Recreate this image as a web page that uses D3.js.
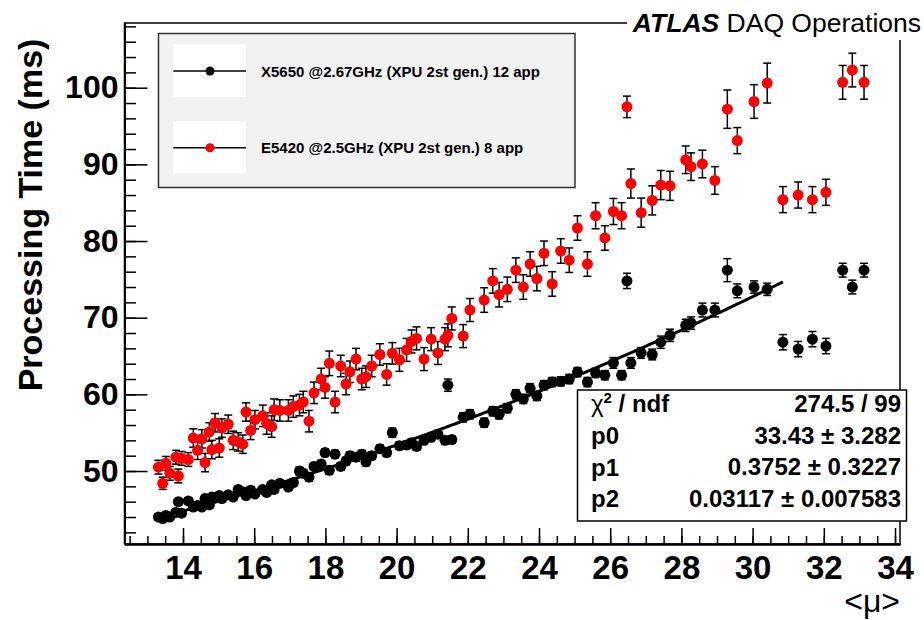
<!DOCTYPE html>
<html>
<head>
<meta charset="utf-8">
<script src="https://d3js.org/d3.v7.min.js"></script>
<style>
  body { margin: 0; background: #fff; }
  svg { display: block; font-family: "Liberation Sans", Arial, Helvetica, sans-serif; }
</style>
</head>
<body>
<div id="chart"></div>
<script>
// <mu> bins, shared by both machines
var mu = [
  13.31, 13.43, 13.52, 13.63, 13.80, 13.87, 13.96, 14.15, 14.29, 14.41,
  14.53, 14.62, 14.74, 14.81, 14.90, 15.02, 15.09, 15.27, 15.41, 15.55,
  15.68, 15.77, 15.90, 16.02, 16.24, 16.35, 16.49, 16.56, 16.72, 16.96,
  17.10, 17.27, 17.38, 17.54, 17.68, 17.88, 17.99, 18.11, 18.27, 18.43,
  18.58, 18.69, 18.86, 19.02, 19.14, 19.30, 19.53, 19.72, 19.88, 20.08,
  20.28, 20.42, 20.56, 20.77, 20.97, 21.16, 21.36, 21.44, 21.55, 21.87,
  22.06, 22.46, 22.70, 22.88, 23.11, 23.35, 23.56, 23.75, 23.94, 24.14,
  24.37, 24.61, 24.85, 25.08, 25.36, 25.59, 25.85, 26.09, 26.32, 26.47,
  26.58, 26.87, 27.18, 27.42, 27.68, 28.12, 28.27, 28.59, 28.94, 29.29,
  29.57, 30.04, 30.41, 30.85, 31.28, 31.68, 32.06, 32.53, 32.80, 33.13
]

// X5650 @2.67GHz, 12 app (black)
var x5650Time = [
  44.0, 43.8, 44.2, 44.0, 44.6, 46.0, 44.5, 46.1, 45.3, 45.5,
  45.3, 46.4, 45.6, 46.6, 46.5, 46.8, 46.4, 46.9, 46.6, 47.6,
  47.3, 46.8, 47.5, 47.0, 47.6, 47.2, 48.2, 47.6, 48.4, 47.9,
  48.5, 50.0, 49.7, 49.2, 50.6, 50.9, 52.4, 50.1, 52.2, 50.6,
  51.3, 52.0, 51.8, 52.2, 51.2, 52.0, 52.9, 52.4, 55.0, 53.3,
  53.4, 53.7, 53.2, 54.0, 54.4, 54.8, 54.0, 61.2, 54.1, 57.0,
  57.4, 56.3, 57.8, 57.4, 58.2, 60.0, 59.4, 60.8, 59.8, 61.2,
  61.6, 61.7, 62.0, 62.9, 61.6, 62.8, 62.5, 64.1, 62.5, 74.8,
  64.1, 65.4, 65.2, 66.8, 67.7, 69.0, 69.3, 71.0, 71.0, 76.2,
  73.5, 74.0, 73.7, 66.8, 65.9, 67.2, 66.3, 76.2, 74.0, 76.2
]
var x5650Err = [
  0.4, 0.4, 0.4, 0.4, 0.4, 0.4, 0.4, 0.4, 0.4, 0.4,
  0.4, 0.4, 0.4, 0.4, 0.4, 0.4, 0.4, 0.4, 0.4, 0.4,
  0.4, 0.4, 0.4, 0.4, 0.4, 0.4, 0.4, 0.4, 0.4, 0.4,
  0.5, 0.5, 0.5, 0.5, 0.5, 0.5, 0.5, 0.5, 0.5, 0.5,
  0.5, 0.5, 0.5, 0.5, 0.5, 0.5, 0.5, 0.5, 0.6, 0.5,
  0.5, 0.5, 0.5, 0.5, 0.5, 0.5, 0.5, 0.8, 0.5, 0.6,
  0.6, 0.6, 0.6, 0.6, 0.6, 0.6, 0.6, 0.6, 0.6, 0.6,
  0.6, 0.6, 0.6, 0.6, 0.6, 0.6, 0.6, 0.7, 0.6, 1.0,
  0.7, 0.7, 0.7, 0.8, 0.8, 0.8, 0.8, 0.9, 0.9, 1.5,
  0.9, 0.8, 0.8, 1.0, 1.0, 1.0, 1.0, 0.9, 0.9, 0.9
]

// E5420 @2.5GHz, 8 app (red)
var e5420Time = [
  50.5, 48.4, 51.0, 49.7, 51.8, 49.35, 51.65, 51.5, 54.3, 52.7,
  54.2, 51.1, 55.1, 52.8, 56.3, 53.0, 55.6, 56.1, 54.0, 53.8,
  53.5, 57.7, 55.3, 56.7, 57.2, 56.2, 55.8, 58.0, 57.9, 57.9,
  58.4, 58.6, 59.0, 56.5, 60.2, 62.0, 60.9, 64.05, 59.0, 63.7,
  61.35, 62.95, 64.6, 62.0, 62.3, 63.7, 65.2, 62.6, 65.35, 64.5,
  65.8, 66.9, 67.3, 64.6, 67.2, 65.4, 67.2, 67.7, 69.9, 67.6,
  71.0, 72.3, 74.8, 73.0, 73.7, 76.2, 74.0, 77.0, 75.1, 78.4,
  74.4, 78.7, 77.5, 81.7, 77.0, 83.3, 80.4, 83.85, 83.3, 97.5,
  87.5, 83.7, 85.3, 87.3, 87.2, 90.6, 89.7, 90.05, 87.9, 97.2,
  93.1, 98.2, 100.6, 85.4, 86.0, 85.4, 86.35, 100.7, 102.3, 100.7
]
var e5420Err = [
  0.9, 0.8, 0.9, 0.9, 0.9, 0.9, 0.9, 0.9, 1.2, 1.2,
  1.2, 1.2, 1.2, 1.2, 1.2, 1.2, 1.2, 1.2, 1.2, 1.2,
  1.2, 1.2, 1.2, 1.2, 1.4, 1.4, 1.4, 1.4, 1.4, 1.4,
  1.4, 1.4, 1.4, 1.4, 1.4, 1.4, 1.4, 1.6, 1.4, 1.4,
  1.4, 1.4, 1.4, 1.4, 1.4, 1.4, 1.4, 1.4, 1.4, 1.5,
  1.5, 1.5, 1.5, 1.5, 1.5, 1.5, 1.5, 1.5, 1.5, 1.5,
  1.5, 1.6, 1.6, 1.6, 1.6, 1.6, 1.6, 1.6, 1.6, 1.6,
  1.6, 1.6, 1.6, 1.6, 1.6, 1.7, 1.6, 1.7, 1.7, 1.4,
  1.9, 1.9, 1.9, 1.9, 1.9, 1.8, 1.8, 1.8, 1.8, 2.5,
  1.7, 2.2, 2.6, 1.7, 1.7, 1.7, 1.7, 2.2, 2.2, 2.2
]

// 2nd order polynomial fit to the X5650 points
var fitPars = [33.43, 0.3752, 0.03117]
var fitRange = [13.31, 30.85]
var statLabels = ["p0", "p1", "p2"]
var statValues = ["274.5 / 99", "33.43 \u00b1 3.282", "0.3752 \u00b1 0.3227", "0.03117 \u00b1 0.007583"]

var xTicks = [14, 16, 18, 20, 22, 24, 26, 28, 30, 32, 34]
var yTicks = [50, 60, 70, 80, 90, 100]

var width = 924
var height = 620

var svg = d3.select('#chart').append('svg')
  .attr('width', width).attr('height', height)

var x = d3.scaleLinear().domain([12.357, 34.14]).range([124.5, 900])
var y = d3.scaleLinear().domain([40.48, 108.44]).range([544, 23])

// frame
svg.append('rect')
  .attr('x', x.range()[0]).attr('y', y.range()[1])
  .attr('width', x.range()[1] - x.range()[0])
  .attr('height', y.range()[0] - y.range()[1])
  .attr('fill', 'none').attr('stroke', '#000').attr('stroke-width', 1.5)

// axes (ticks pointing into the frame, ROOT style)
var xMinor = svg.append('g').attr('transform', 'translate(0,544)')
  .call(d3.axisBottom(x).tickValues(d3.range(12.5, 34.01, 0.5)).tickSizeInner(-8).tickSizeOuter(0).tickFormat(''))
var xMajor = svg.append('g').attr('transform', 'translate(0,544)')
  .call(d3.axisBottom(x).tickValues(xTicks).tickSizeInner(-16).tickSizeOuter(0).tickPadding(12).tickFormat(d3.format('d')))
var yMinor = svg.append('g').attr('transform', 'translate(124.5,0)')
  .call(d3.axisLeft(y).tickValues(d3.range(42, 108.1, 2)).tickSizeInner(-11.5).tickSizeOuter(0).tickFormat(''))
var yMajor = svg.append('g').attr('transform', 'translate(124.5,0)')
  .call(d3.axisLeft(y).tickValues(yTicks).tickSizeInner(-23).tickSizeOuter(0).tickPadding(6).tickFormat(d3.format('d')))

svg.selectAll('.domain').attr('stroke', '#000').attr('stroke-width', 2)
svg.selectAll('.tick line').attr('stroke', '#000').attr('stroke-width', 1.5)
xMajor.selectAll('text').attr('font-size', 33).attr('font-weight', 'bold').attr('fill', '#000')
yMajor.selectAll('text').attr('font-size', 32).attr('font-weight', 'bold').attr('fill', '#000')
svg.selectAll('g.tick text').attr('font-family', '"Liberation Sans", Arial, sans-serif')

svg.append('text')
  .attr('transform', 'translate(42,215) rotate(-90)')
  .attr('text-anchor', 'middle')
  .attr('font-size', 34).attr('font-weight', 'bold')
  .text('Processing Time (ms)')

svg.append('text')
  .attr('x', 900).attr('y', 612)
  .attr('text-anchor', 'end')
  .attr('font-size', 32)
  .text('<\u03bc>')

// data
var series = [
  { name: 'E5420 @2.5GHz (XPU 2st gen.) 8 app', color: '#ff0000', values: e5420Time, errors: e5420Err },
  { name: 'X5650 @2.67GHz (XPU 2st gen.) 12 app', color: '#000000', values: x5650Time, errors: x5650Err }
]

series.forEach(function(s) {
  var pts = mu.map(function(m, i) {
    return { mu: m, v: s.values[i], e: s.errors[i] }
  })
  var g = svg.append('g')
  var bars = g.selectAll('g.err').data(pts).enter().append('g').attr('class', 'err')
    .attr('stroke', '#000').attr('stroke-width', 1.5)
  bars.append('line')
    .attr('x1', function(d) { return x(d.mu) }).attr('x2', function(d) { return x(d.mu) })
    .attr('y1', function(d) { return y(d.v - d.e) }).attr('y2', function(d) { return y(d.v + d.e) })
  bars.append('line')
    .attr('x1', function(d) { return x(d.mu) - 4 }).attr('x2', function(d) { return x(d.mu) + 4 })
    .attr('y1', function(d) { return y(d.v - d.e) }).attr('y2', function(d) { return y(d.v - d.e) })
  bars.append('line')
    .attr('x1', function(d) { return x(d.mu) - 4 }).attr('x2', function(d) { return x(d.mu) + 4 })
    .attr('y1', function(d) { return y(d.v + d.e) }).attr('y2', function(d) { return y(d.v + d.e) })
  g.selectAll('circle').data(pts).enter().append('circle')
    .attr('cx', function(d) { return x(d.mu) })
    .attr('cy', function(d) { return y(d.v) })
    .attr('r', 5.5)
    .attr('fill', s.color)
})

// fit curve
var fitLine = d3.line()
  .x(function(m) { return x(m) })
  .y(function(m) { return y(fitPars[0] + fitPars[1] * m + fitPars[2] * m * m) })
var fitMu = d3.range(fitRange[0], fitRange[1], 0.05).concat([fitRange[1]])
svg.append('path').datum(fitMu)
  .attr('d', fitLine)
  .attr('fill', 'none').attr('stroke', '#000').attr('stroke-width', 3)

// legend
var legend = svg.append('g')
legend.append('rect')
  .attr('x', 158.5).attr('y', 33.5).attr('width', 416.5).attr('height', 154)
  .attr('fill', '#f2f2f2').attr('stroke', '#333').attr('stroke-width', 1.5)
var entries = [series[1], series[0]]
entries.forEach(function(s, i) {
  var cy = 71 + i * 76.7
  legend.append('rect')
    .attr('x', 173.3).attr('y', cy - 26.7).attr('width', 72.7).attr('height', 52.4)
    .attr('fill', '#fff')
  legend.append('line')
    .attr('x1', 173.3).attr('x2', 246).attr('y1', cy).attr('y2', cy)
    .attr('stroke', '#000').attr('stroke-width', 1.5)
  legend.append('circle')
    .attr('cx', 210).attr('cy', cy).attr('r', 4.5).attr('fill', s.color)
  legend.append('text')
    .attr('x', 261).attr('y', cy + 5.5)
    .attr('font-size', 15).attr('font-weight', 'bold')
    .text(s.name)
})

// fit statistics box
var stats = svg.append('g')
stats.append('rect')
  .attr('x', 577.5).attr('y', 390).attr('width', 329).attr('height', 131)
  .attr('fill', '#fff').attr('stroke', '#000').attr('stroke-width', 1.5)
var chi = stats.append('text').attr('x', 591).attr('y', 412)
  .attr('font-size', 24).attr('font-weight', 'bold')
chi.append('tspan').attr('font-weight', 'normal').text('\u03c7')
chi.append('tspan').attr('font-size', 15).attr('dy', -9).text('2')
chi.append('tspan').attr('dy', 9).text(' / ndf')
statLabels.forEach(function(l, i) {
  stats.append('text').attr('x', 591).attr('y', 444 + i * 31.5)
    .attr('font-size', 24).attr('font-weight', 'bold').text(l)
})
statValues.forEach(function(v, i) {
  stats.append('text').attr('x', 901).attr('y', 412 + i * 31.7)
    .attr('text-anchor', 'end')
    .attr('font-size', 24).attr('font-weight', 'bold').text(v)
})

// label in the top right corner, over the frame
svg.append('rect').attr('x', 627).attr('y', 0).attr('width', 297).attr('height', 40).attr('fill', '#fff')
var atlas = svg.append('text').attr('x', 921).attr('y', 32)
  .attr('text-anchor', 'end').attr('font-size', 26.5)
atlas.append('tspan').attr('font-weight', 'bold').attr('font-style', 'italic').text('ATLAS')
atlas.append('tspan').text(' DAQ Operations')
</script>
</body>
</html>
